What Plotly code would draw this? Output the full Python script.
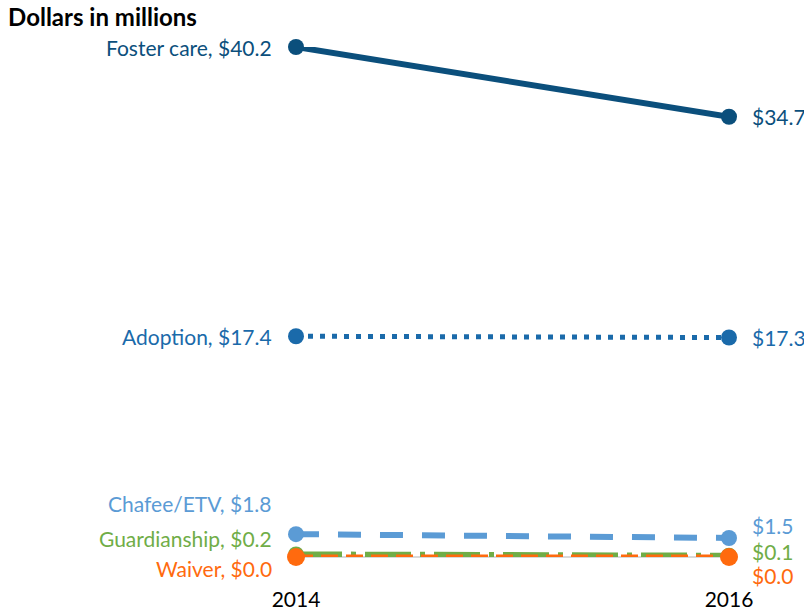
import plotly.graph_objects as go

years = [2014, 2016]
series_names = ["Foster care", "Adoption", "Chafee/ETV", "Guardianship", "Waiver"]
foster = [40.2, 34.7]
adoption = [17.4, 17.3]
chafee = [1.8, 1.5]
guardianship = [0.2, 0.1]
waiver = [0.0, 0.0]
values = [foster, adoption, chafee, guardianship, waiver]

colors = ["#0b4f7c", "#1a6aaa", "#5b9bd5", "#70ad47", "#ff6a0e"]
dashes = ["solid", "5px,7px", "23px,19px", "46px,9px,5px,9px", "17px,8px"]
widths = [6, 5, 6, 6, 5]
msize = [16, 16, 16, 16, 18]
# label vertical pixel offsets (positive = up) for left / right labels
left_shift = [0, 0, 31, 16, -11]
right_shift = [0, 0, 12, 4, -18]

FONT = "Lato, 'Open Sans', sans-serif"

fig = go.Figure()
for name, vals, c, d, w, ms in zip(series_names, values, colors, dashes, widths, msize):
    fig.add_trace(go.Scatter(
        x=years, y=vals, mode="lines+markers", name=name,
        line=dict(color=c, width=w, dash=d),
        marker=dict(color=c, size=ms),
        cliponaxis=False, showlegend=False,
    ))

for name, vals, c, ls, rs in zip(series_names, values, colors, left_shift, right_shift):
    fig.add_annotation(x=years[0], y=vals[0], text=f"{name}, ${vals[0]:.1f}",
                       xanchor="right", yanchor="middle", xshift=-22, yshift=ls,
                       showarrow=False, font=dict(family=FONT, size=21, color=c))
    fig.add_annotation(x=years[1], y=vals[1], text=f"${vals[1]:.1f}",
                       xanchor="left", yanchor="middle", xshift=21, yshift=rs,
                       showarrow=False, font=dict(family=FONT, size=21, color=c))

fig.update_layout(
    width=804, height=613,
    margin=dict(l=296, r=75, t=47, b=56),
    plot_bgcolor="white", paper_bgcolor="white",
    font=dict(family=FONT, size=18, color="black"),
    title=dict(text="<b>Dollars in millions</b>", x=0.01, xanchor="left",
               y=0.972, yanchor="middle", font=dict(family=FONT, size=24, color="black")),
    xaxis=dict(range=[2014, 2016], tickvals=years, ticktext=[str(y) for y in years],
               showgrid=False, zeroline=False, showline=False, automargin=False,
               ticks="outside", ticklen=24, tickcolor="rgba(0,0,0,0)",
               tickfont=dict(family=FONT, size=21, color="black")),
    yaxis=dict(range=[0, 40.2], showgrid=False, showticklabels=False, automargin=False,
               zeroline=True, zerolinecolor="#d9d9d9", zerolinewidth=2,
               showline=False),
)

fig.write_html("out.html", config={"displayModeBar": False},
               post_script="document.body.style.margin='0';document.body.style.overflow='hidden';")
